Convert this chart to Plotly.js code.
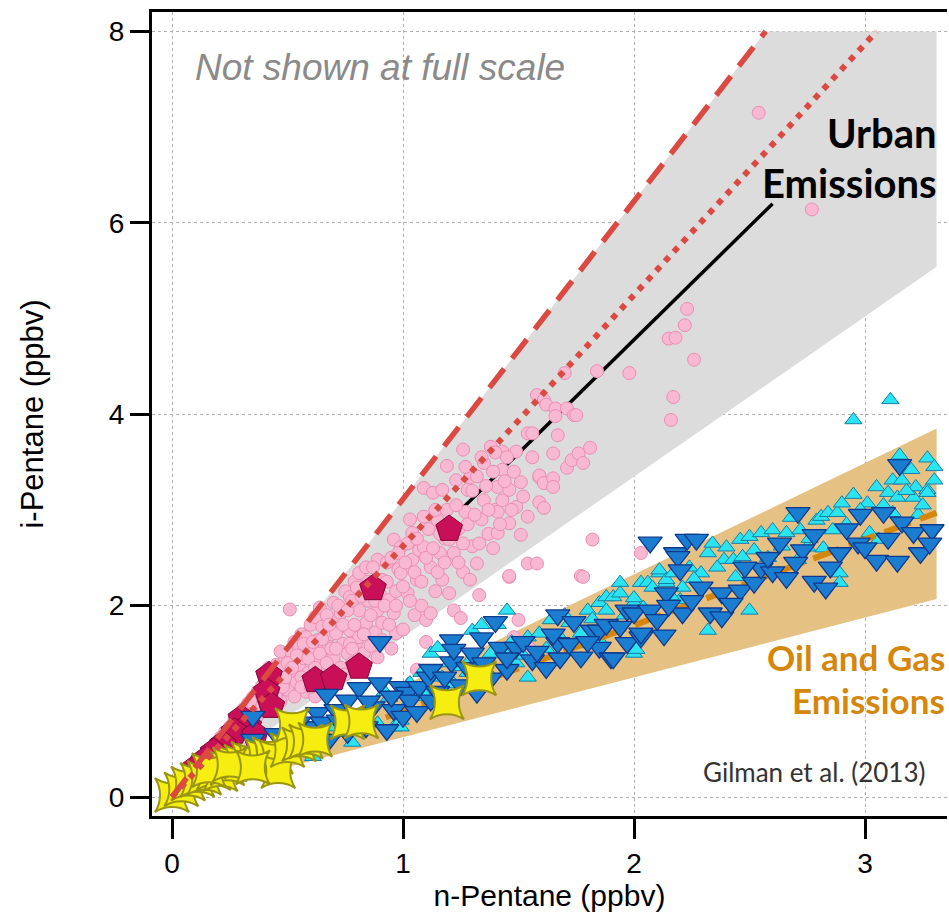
<!DOCTYPE html>
<html>
<head>
<meta charset="utf-8">
<script src="https://cdn.plot.ly/plotly-3.0.1.min.js"></script>
<style>html,body{margin:0;padding:0;background:#fff;}#chart{width:949px;height:918px;}</style>
</head>
<body>
<div id="chart"></div>
<script>
// ---- tick labels ----
const xTicks = [0, 1, 2, 3];
const yTicks = [0, 2, 4, 6, 8];

// ---- envelopes (emission ratio ranges) ----
const urbanBandX = [0, 2.57, 3.31, 3.31, 0];
const urbanBandY = [0, 8.0, 8.0, 5.54, 0];
const oilBandX = [0, 3.31, 3.31, 0];
const oilBandY = [0, 3.85, 2.07, 0];

// ---- reference lines ----
const urbanFitX = [1.25, 2.60];
const urbanFitY = [3.00, 6.20];
const oilFitX = [0.0, 3.31];
const oilFitY = [0.0, 2.97];
const dashedRefX = [0, 2.57];
const dashedRefY = [0, 8.0];
const dottedRefX = [0, 3.05];
const dottedRefY = [0, 8.0];

// ---- pink circles (urban samples) ----
const pinkPts = [
[0.10,0.30],[0.12,0.36],[0.14,0.33],[0.15,0.42],[0.17,0.38],[0.18,0.50],[0.19,0.45],[0.20,0.56],
[0.21,0.62],[0.22,0.52],[0.23,0.68],[0.24,0.58],[0.25,0.73],[0.26,0.64],[0.27,0.80],[0.28,0.70],[0.29,0.86],[0.30,0.76],
[0.31,0.92],[0.32,0.84],[0.33,0.98],[0.34,0.88],[0.35,1.04],[0.36,0.94],[0.37,1.10],[0.38,1.00],[0.39,1.16],[0.40,0.90],[0.36,0.80],[0.33,0.72],
[0.41,1.20],[0.42,1.05],[0.43,1.30],[0.44,1.14],[0.45,1.38],[0.46,1.22],[0.47,1.00],[0.48,1.32],[0.49,1.45],[0.50,1.12],[0.44,0.95],[0.47,1.52],
[0.51,1.96],[0.51,1.28],[0.52,1.50],[0.53,1.62],[0.54,1.20],[0.55,1.57],[0.55,1.38],[0.56,1.70],[0.57,1.45],[0.58,1.67],[0.58,1.10],[0.59,1.30],[0.60,1.80],[0.60,1.52],[0.53,1.05],
[0.61,1.20],[0.62,1.88],[0.63,1.64],[0.63,1.42],[0.64,1.98],[0.65,1.78],[0.66,1.55],[0.66,1.30],[0.67,1.90],[0.68,1.57],[0.69,1.70],[0.70,2.03],[0.70,1.45],[0.62,1.05],
[0.71,1.71],[0.72,1.85],[0.73,1.92],[0.73,1.35],[0.74,1.60],[0.75,2.15],[0.76,1.50],[0.77,2.09],[0.77,1.74],[0.78,1.40],[0.79,2.25],[0.80,2.19],[0.80,1.62],[0.75,1.28],
[0.81,2.34],[0.81,1.95],[0.81,1.67],[0.83,1.50],[0.84,2.40],[0.84,1.82],[0.85,2.05],[0.86,1.58],[0.87,2.25],[0.88,1.72],[0.89,2.48],[0.89,1.95],[0.89,1.46],[0.90,2.12],
[0.91,2.27],[0.91,1.82],[0.91,1.64],[0.93,2.45],[0.94,2.06],[0.95,1.55],[0.96,2.69],[0.96,1.92],[0.97,1.71],[0.98,2.38],[0.99,2.61],[0.99,2.34],[1.00,1.75],[0.97,2.15],
[1.02,2.13],[1.04,2.76],[1.04,2.48],[1.05,1.90],[1.06,2.27],[1.06,1.33],[1.07,2.58],[1.08,2.00],[1.09,2.93],[1.09,2.61],[1.09,3.23],[1.10,1.85],[1.10,1.62],[1.03,2.90],
[1.12,2.40],[1.12,1.92],[1.13,3.18],[1.14,2.15],[1.15,2.89],[1.16,2.55],[1.17,2.27],[1.17,3.21],[1.18,2.70],[1.19,3.46],[1.20,2.69],[1.20,2.13],[1.14,3.00],
[1.22,2.55],[1.22,1.95],[1.23,3.31],[1.24,2.80],[1.25,1.87],[1.26,2.35],[1.26,3.63],[1.27,2.98],[1.28,3.21],[1.29,2.27],[1.29,3.34],[1.30,2.62],
[1.32,2.44],[1.33,2.65],[1.33,2.11],[1.34,2.90],[1.35,3.10],[1.35,3.49],[1.37,2.75],[1.38,3.66],[1.39,2.60],[1.40,3.00],
[1.41,2.76],[1.41,2.98],[1.41,3.24],[1.43,3.42],[1.43,3.61],[1.43,3.10],[1.46,2.86],[1.46,3.21],[1.46,2.30],[1.48,1.67],[1.49,3.03],[1.49,3.61],[1.50,1.85],[1.46,2.31],
[1.51,2.74],[1.51,3.29],[1.52,3.14],[1.54,2.93],[1.54,3.80],[1.54,2.44],[1.55,1.55],[1.56,3.80],[1.56,3.55],[1.58,2.44],[1.58,4.20],[1.59,3.34],[1.59,3.08],[1.59,3.36],[1.61,4.15],[1.61,3.28],[1.61,3.02],[1.62,4.10],
[1.65,3.59],[1.65,3.33],[1.65,3.24],[1.66,4.06],[1.66,3.98],[1.67,3.78],[1.70,4.43],[1.71,4.06],[1.71,3.44],[1.73,3.52],[1.74,3.99],[1.75,3.99],[1.76,3.59],[1.77,2.31],[1.78,3.49],[1.78,2.30],[1.81,3.65],[1.82,2.69],[1.84,4.45],
[1.98,4.43],[2.03,2.55],[2.15,4.79],[2.16,3.94],[2.17,4.18],[2.18,4.80],[2.22,4.93],[2.23,5.10],[2.26,4.57],[2.54,7.15],[2.77,6.14],
[0.31,0.70],[0.34,1.00],[0.37,0.85],[0.39,0.95],[0.41,1.00],[0.43,1.18],[0.45,1.05],[0.46,1.35],[0.48,1.15],[0.49,1.25],[0.50,1.40],[0.42,1.35],
[0.52,1.35],[0.54,1.48],[0.56,1.25],[0.57,1.60],[0.59,1.45],[0.61,1.62],[0.62,1.35],[0.64,1.50],[0.65,1.65],[0.67,1.40],[0.68,1.80],[0.69,1.55],[0.56,1.15],[0.60,1.15],
[0.71,1.55],[0.72,2.00],[0.74,1.80],[0.76,1.95],[0.77,1.60],[0.78,2.05],[0.79,1.80],[0.82,2.10],[0.83,1.70],[0.85,2.25],[0.86,1.90],[0.87,2.40],[0.88,2.05],[0.78,1.55],
[0.92,2.00],[0.93,2.25],[0.94,1.80],[0.95,2.50],[0.97,2.00],[0.98,2.55],[1.00,2.20],[1.01,2.45],[1.02,2.65],[1.03,2.05],[1.05,2.35],[1.06,2.70],[1.08,2.25],[1.10,2.50],
[1.11,2.80],[1.13,2.60],[1.15,2.35],[1.16,2.75],[1.18,2.45],[1.19,3.00],[1.21,2.85],[1.23,3.05],[1.24,2.45],[1.26,2.65],
[1.27,3.45],[1.28,2.85],[1.30,3.20],[1.31,2.95],[1.32,3.35],[1.34,3.55],[1.36,3.25],[1.37,3.00],[1.39,3.40],[1.40,3.60],[1.42,2.85],[1.44,3.30],[1.45,3.55],[1.47,3.00],[1.48,3.40]
];

// ---- cyan up-triangles ----
const cyanPts = [
[0.39,0.28],[0.55,0.52],[0.61,0.42],[0.63,0.51],[0.70,0.73],[0.78,0.57],[0.89,0.77],[0.94,1.04],[0.96,0.73],[0.99,0.80],[0.99,0.73],[1.00,0.91],[1.02,1.17],[1.03,1.19],[1.06,1.12],
[1.12,1.50],[1.15,1.56],[1.17,1.25],[1.25,1.36],[1.28,1.30],[1.29,1.43],[1.30,1.74],[1.34,1.80],[1.36,1.33],[1.41,1.80],[1.43,1.54],[1.45,1.95],[1.49,1.40],[1.54,1.67],[1.54,1.25],
[1.59,1.71],[1.64,1.85],[1.68,1.67],[1.72,1.82],[1.77,1.71],[1.80,1.95],[1.85,2.03],[1.85,1.64],[1.88,1.95],[1.88,2.09],[1.91,2.09],[1.94,2.24],[1.94,2.13],[2.00,2.03],[2.00,2.08],
[2.00,1.50],[2.01,1.54],[2.03,2.24],[2.06,2.24],[2.08,2.19],[2.11,2.34],[2.11,2.37],[2.14,2.24],[2.14,2.27],[2.17,2.34],[2.20,2.06],[2.21,2.19],[2.24,2.40],[2.29,2.34],[2.32,2.55],
[2.32,1.74],[2.34,2.65],[2.39,2.48],[2.40,2.61],[2.43,2.48],[2.46,2.69],[2.47,2.51],[2.50,2.72],[2.50,1.95],[2.52,2.58],[2.55,2.76],[2.60,2.79],[2.66,2.76],[2.71,2.48],[2.72,2.79],
[2.75,2.61],[2.79,2.89],[2.81,2.93],[2.84,2.97],[2.86,2.79],[2.88,2.97],[2.89,2.34],[2.89,2.24],[2.90,3.07],[2.95,3.16],[2.95,3.94],[3.01,3.07],[3.02,2.76],[3.05,3.24],[3.06,2.69],
[3.10,3.18],[3.11,4.15],[3.12,3.31],[3.12,2.97],[3.14,3.13],[3.15,3.57],[3.16,3.31],[3.20,3.42],[3.21,3.13],[3.22,3.24],[3.23,2.95],[3.27,3.54],[3.27,3.21],[3.27,3.18],[3.30,3.45],[3.30,3.31],
[0.58,0.62],[0.66,0.66],[0.74,0.70],[0.82,0.85],[0.86,0.95],[0.92,1.10],[1.08,1.30],[1.10,1.05],[1.20,1.40],[1.22,1.18],[1.38,1.50],[1.47,1.62],[1.52,1.48],[1.62,1.55],[1.70,1.90],
[1.75,1.60],[1.82,1.86],[1.96,1.90],[2.04,1.98],[2.16,2.10],[2.26,2.28],[2.36,2.40],[2.44,2.30],[2.58,2.50],[2.64,2.62],[2.68,2.92],[2.76,2.70],[2.82,2.60],[2.92,2.85],[2.98,3.00],
[3.08,3.05],[3.18,3.20],[3.25,3.05]
];

// ---- blue down-triangles ----
const bluePts = [
[0.35,0.84],[0.35,0.60],[0.58,0.73],[0.61,0.73],[0.63,0.88],[0.67,1.07],[0.68,0.60],[0.71,0.91],[0.76,1.01],[0.76,0.67],[0.81,1.14],[0.84,0.73],[0.87,0.94],[0.90,1.19],[0.90,1.62],
[0.93,0.70],[0.96,0.91],[0.99,1.15],[1.00,0.84],[1.02,1.09],[1.03,1.01],[1.06,0.89],[1.07,1.15],[1.11,1.25],[1.12,1.33],[1.12,1.01],[1.21,1.64],[1.21,1.41],[1.22,1.54],[1.25,1.17],
[1.32,1.09],[1.34,1.66],[1.38,1.24],[1.40,1.83],[1.42,1.56],[1.45,1.33],[1.49,1.56],[1.56,1.43],[1.62,1.35],[1.67,1.90],[1.67,1.61],[1.68,1.45],[1.74,1.83],[1.77,1.46],[1.82,1.74],
[1.85,1.56],[1.85,1.74],[1.88,1.80],[1.90,1.45],[1.91,1.45],[1.94,1.78],[1.97,1.61],[1.97,1.95],[2.00,1.92],[2.03,1.67],[2.03,1.71],[2.07,2.66],[2.07,1.95],[2.13,1.69],[2.14,2.13],
[2.18,2.55],[2.19,2.51],[2.20,2.37],[2.21,1.92],[2.23,2.69],[2.27,2.69],[2.29,2.19],[2.33,1.92],[2.38,1.88],[2.38,2.13],[2.46,2.16],[2.52,2.24],[2.55,2.39],[2.60,2.35],[2.63,2.65],
[2.66,2.29],[2.71,2.97],[2.73,2.58],[2.78,2.74],[2.78,2.25],[2.83,2.18],[2.89,2.55],[2.97,2.65],[2.98,2.95],[3.05,2.47],[3.08,2.97],[3.14,2.46],[3.15,3.47],[3.16,2.87],[3.21,2.76],
[3.24,2.55],[3.29,2.79],
[0.45,0.66],[0.52,0.70],[0.55,0.78],[0.65,0.78],[0.72,0.80],[0.80,0.85],[0.85,1.00],[0.95,1.05],[1.15,1.10],[1.18,1.25],[1.28,1.35],[1.30,1.50],[1.35,1.40],[1.45,1.45],[1.52,1.62],
[1.58,1.52],[1.65,1.70],[1.72,1.60],[1.80,1.62],[2.10,1.85],[2.15,2.00],[2.25,2.05],[2.42,2.02],[2.48,2.40],[2.58,2.50],[2.70,2.45],[2.85,2.40],[2.92,2.80],[3.00,2.60],[3.10,2.70],[3.28,2.65]
];

// ---- crimson pentagons ----
const pentX = [1.20, 0.87, 0.62, 0.70, 0.81, 0.42, 0.41, 0.43, 0.30, 0.33, 0.27, 0.36, 0.22, 0.18, 0.14, 0.10];
const pentY = [2.80, 2.18, 1.22, 1.24, 1.36, 1.27, 1.10, 0.95, 0.82, 0.74, 0.68, 0.65, 0.55, 0.47, 0.38, 0.30];

// ---- yellow four-point stars ----
const starX = [0.00, 0.04, 0.07, 0.11, 0.14, 0.18, 0.21, 0.24, 0.27, 0.30, 0.33, 0.36, 0.39, 0.42, 0.45, 0.46, 0.50, 0.52, 0.55, 0.58, 0.62, 0.76, 0.82, 1.19, 1.33, 0.16, 0.25, 0.35];
const starY = [0.02, 0.08, 0.14, 0.18, 0.20, 0.25, 0.24, 0.30, 0.36, 0.37, 0.40, 0.38, 0.43, 0.45, 0.42, 0.27, 0.49, 0.75, 0.55, 0.58, 0.60, 0.78, 0.79, 0.99, 1.24, 0.28, 0.34, 0.31];

const col = (arr, i) => arr.map(p => p[i]);

const traces = [
  {x: urbanBandX, y: urbanBandY, type: 'scatter', mode: 'lines', fill: 'toself', fillcolor: '#dcdcdc', line: {width: 0, color: '#dcdcdc'}, hoverinfo: 'skip', showlegend: false},
  {x: oilBandX, y: oilBandY, type: 'scatter', mode: 'lines', fill: 'toself', fillcolor: '#e6c184', line: {width: 0, color: '#e6c184'}, hoverinfo: 'skip', showlegend: false},
  {x: urbanFitX, y: urbanFitY, type: 'scatter', mode: 'lines', line: {color: '#000', width: 3.5}, showlegend: false},
  {x: col(pinkPts,0), y: col(pinkPts,1), type: 'scatter', mode: 'markers', marker: {symbol: 'circle', size: 13, color: '#f9b8d2', line: {color: '#e98db4', width: 1}}, showlegend: false},
  {x: col(cyanPts,0), y: col(cyanPts,1), type: 'scatter', mode: 'markers', marker: {symbol: 'triangle-up', size: 15, color: '#2ae4f2', line: {color: '#167fa8', width: 1}}, showlegend: false},
  {x: oilFitX, y: oilFitY, type: 'scatter', mode: 'lines', line: {color: '#d4870c', width: 6, dash: '28px,10px'}, showlegend: false},
  {x: pentX, y: pentY, type: 'scatter', mode: 'markers', marker: {symbol: 'pentagon', size: 28, color: '#c80f58', line: {color: '#7e0734', width: 1}}, showlegend: false},
  {x: col(bluePts,0), y: col(bluePts,1), type: 'scatter', mode: 'markers', marker: {symbol: 'triangle-down', size: 21, color: '#1b7dcf', line: {color: '#10398c', width: 1.3}}, showlegend: false},
  {x: starX, y: starY, type: 'scatter', mode: 'markers', marker: {symbol: 'star-square', size: 31, color: '#f6ee10', line: {color: '#9a9612', width: 2}}, showlegend: false},
  {x: dashedRefX, y: dashedRefY, type: 'scatter', mode: 'lines', line: {color: '#db4a42', width: 5.5, dash: '24px,13px'}, showlegend: false},
  {x: dottedRefX, y: dottedRefY, type: 'scatter', mode: 'lines', line: {color: '#db4a42', width: 6, dash: '6px,7px'}, showlegend: false}
];

const tickFont = {family: 'Liberation Sans, Arial, sans-serif', size: 28, color: '#000'};
const layout = {
  width: 949, height: 918,
  margin: {l: 152, r: 2, t: 12, b: 102},
  paper_bgcolor: '#fff', plot_bgcolor: '#fff',
  showlegend: false,
  xaxis: {
    range: [-0.0866, 3.355], tickvals: xTicks, ticktext: xTicks.map(String),
    showgrid: true, gridcolor: '#b0b0b0', griddash: 'dot', gridwidth: 1, zeroline: false,
    showline: true, linecolor: '#000', linewidth: 3, mirror: true,
    ticks: 'outside', ticklen: 20, tickwidth: 3, tickcolor: '#000',
    tickfont: tickFont,
    title: {text: 'n-Pentane (ppbv)', font: {family: 'Liberation Sans, Arial, sans-serif', size: 30, color: '#000'}, standoff: 2}
  },
  yaxis: {
    range: [-0.1985, 8.203], tickvals: yTicks, ticktext: yTicks.map(String),
    showgrid: true, gridcolor: '#b0b0b0', griddash: 'dot', gridwidth: 1, zeroline: false,
    showline: true, linecolor: '#000', linewidth: 3,
    ticks: 'outside', ticklen: 19, tickwidth: 3, tickcolor: '#000',
    tickfont: tickFont,
    title: {text: 'i-Pentane (ppbv)', font: {family: 'Liberation Sans, Arial, sans-serif', size: 31, color: '#000'}, standoff: 56}
  },
  annotations: [
    {x: 0.09, y: 7.62, xref: 'x', yref: 'y', xanchor: 'left', yanchor: 'middle', showarrow: false,
     text: '<i>Not shown at full scale</i>', font: {family: 'Liberation Sans, Arial, sans-serif', size: 37, color: '#8a8a8a'}},
    {x: 3.32, y: 6.94, xref: 'x', yref: 'y', xanchor: 'right', yanchor: 'middle', showarrow: false,
     text: '<b>Urban</b>', font: {family: 'Lato, sans-serif', size: 40, color: '#000'}},
    {x: 3.32, y: 6.42, xref: 'x', yref: 'y', xanchor: 'right', yanchor: 'middle', showarrow: false,
     text: '<b>Emissions</b>', font: {family: 'Lato, sans-serif', size: 40, color: '#000'}},
    {x: 3.355, y: 1.46, xref: 'x', yref: 'y', xanchor: 'right', yanchor: 'middle', showarrow: false,
     text: '<b>Oil and Gas</b>', font: {family: 'Lato, sans-serif', size: 35, color: '#d4870c'}},
    {x: 3.355, y: 1.01, xref: 'x', yref: 'y', xanchor: 'right', yanchor: 'middle', showarrow: false,
     text: '<b>Emissions</b>', font: {family: 'Lato, sans-serif', size: 35, color: '#d4870c'}},
    {x: 3.27, y: 0.26, xref: 'x', yref: 'y', xanchor: 'right', yanchor: 'middle', showarrow: false,
     text: 'Gilman et al. (2013)', font: {family: 'Lato, sans-serif', size: 26, color: '#333'}}
  ]
};

Plotly.newPlot('chart', traces, layout, {displayModeBar: false, staticPlot: true});
</script>
</body>
</html>
